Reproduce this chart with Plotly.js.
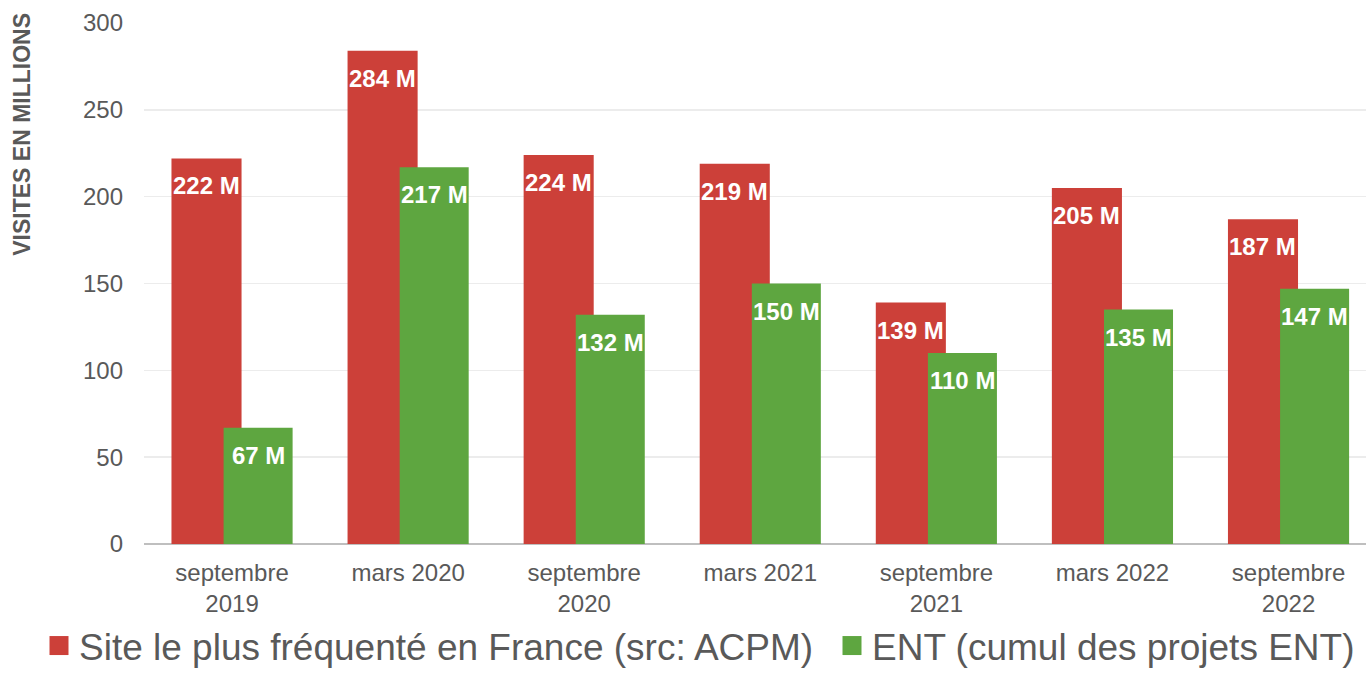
<!DOCTYPE html>
<html>
<head>
<meta charset="utf-8">
<script src="https://cdn.plot.ly/plotly-3.0.1.min.js"></script>
<style>
html,body{margin:0;padding:0;background:#fff;}
#chart{width:1366px;height:677px;}
</style>
</head>
<body>
<div id="chart"></div>
<script>
const categories = ["septembre<br>2019", "mars 2020", "septembre<br>2020", "mars 2021", "septembre<br>2021", "mars 2022", "septembre<br>2022"];
const acpmValues = [222, 284, 224, 219, 139, 205, 187];
const entValues = [67, 217, 132, 150, 110, 135, 147];
const seriesNames = ["Site le plus fréquenté en France (src: ACPM)", "ENT (cumul des projets ENT)"];
const yTicks = [0, 50, 100, 150, 200, 250, 300];
const yTitle = "VISITES EN MILLIONS";

const FONT = "Liberation Sans, Arial, sans-serif";
const GREY = "#595959";
const RED = "#CC4039";
const GREEN = "#5EA640";
const redOffset = -0.344, redWidth = 0.398;
const greenOffset = -0.048, greenWidth = 0.392;

const idx = categories.map((c, i) => i);

const traces = [
  {
    type: "bar", name: seriesNames[0], x: idx, y: acpmValues,
    offset: redOffset, width: redWidth, legend: "legend",
    marker: {color: RED}, hoverinfo: "y"
  },
  {
    type: "bar", name: seriesNames[1], x: idx, y: entValues,
    offset: greenOffset, width: greenWidth, legend: "legend2",
    marker: {color: GREEN}, hoverinfo: "y"
  }
];

const annotations = [];
acpmValues.forEach((v, i) => annotations.push({
  x: i + redOffset + redWidth / 2, y: v, xref: "x", yref: "y",
  text: "<b>" + v + " M</b>", showarrow: false,
  xanchor: "center", yanchor: "top", yshift: -12,
  font: {family: FONT, size: 24, color: "#ffffff"}
}));
entValues.forEach((v, i) => annotations.push({
  x: i + greenOffset + greenWidth / 2, y: v, xref: "x", yref: "y",
  text: "<b>" + v + " M</b>", showarrow: false,
  xanchor: "center", yanchor: "top", yshift: -12,
  font: {family: FONT, size: 24, color: "#ffffff"}
}));
annotations.push({
  text: "<b>" + yTitle + "</b>", textangle: -90, showarrow: false,
  xref: "paper", yref: "paper", x: -0.1, y: 0.787,
  xanchor: "center", yanchor: "middle",
  font: {family: FONT, size: 23, color: GREY}
});

const legendBase = {
  orientation: "h", xref: "container", yref: "container",
  xanchor: "left", y: 0, yanchor: "bottom",
  font: {family: FONT, size: 37, color: GREY},
  bgcolor: "rgba(0,0,0,0)",
  itemclick: false, itemdoubleclick: false
};

const layout = {
  width: 1366, height: 677,
  margin: {l: 144, r: 0, t: 23, b: 133},
  paper_bgcolor: "#ffffff", plot_bgcolor: "#ffffff",
  barmode: "overlay",
  font: {family: FONT, color: GREY},
  xaxis: {
    type: "linear", range: [-0.5, 6.44],
    tickmode: "array", tickvals: idx, ticktext: categories,
    showgrid: false, zeroline: false,
    showline: false, ticks: "",
    ticklabelstandoff: 12,
    tickfont: {family: FONT, size: 24, color: GREY}
  },
  yaxis: {
    range: [0, 300], tickmode: "array", tickvals: yTicks,
    showgrid: true, gridcolor: "#ececec", gridwidth: 1.5,
    zeroline: true, zerolinecolor: "#bfbfbf", zerolinewidth: 2.5,
    showline: false, ticks: "",
    ticklabelstandoff: 20,
    tickfont: {family: FONT, size: 24, color: GREY}
  },
  showlegend: true,
  legend: Object.assign({}, legendBase, {x: 39 / 1366}),
  legend2: Object.assign({}, legendBase, {x: 832 / 1366}),
  annotations: annotations
};

Plotly.newPlot("chart", traces, layout, {displayModeBar: false, staticPlot: true}).then(gd => {
  gd.querySelectorAll(".legendpoints path").forEach(p => {
    p.setAttribute("d", "M9.5,9.5H-9.5V-9.5H9.5Z");
  });
});
</script>
</body>
</html>
